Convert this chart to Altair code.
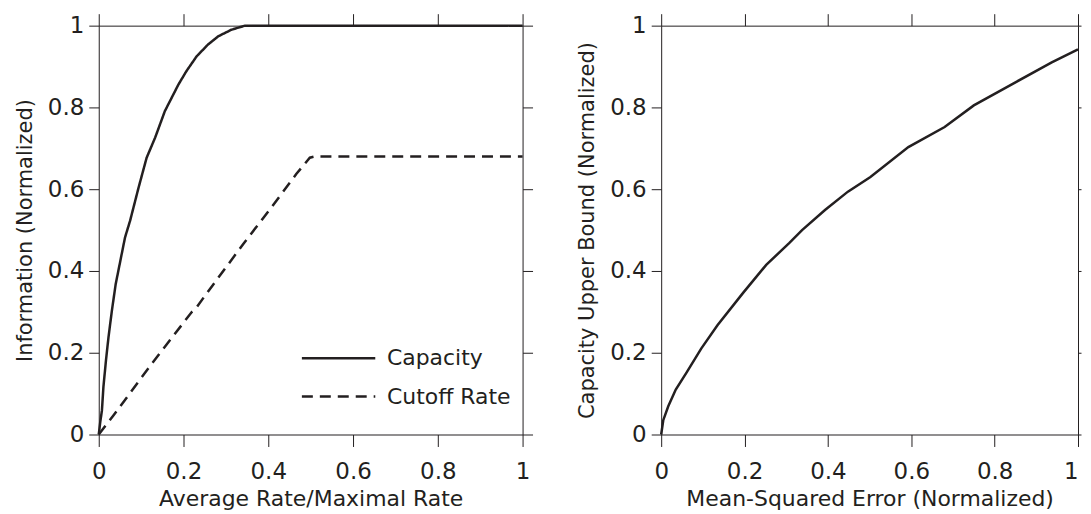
import altair as alt
import pandas as pd

INK = "#231f20"
FONT = "DejaVu Sans"

# ---- Left panel data ----
cap_x = [0, 0.0035, 0.0075, 0.011, 0.017, 0.023, 0.031, 0.040, 0.051, 0.062, 0.074,
         0.094, 0.113, 0.133, 0.156, 0.188, 0.207, 0.231, 0.258, 0.282, 0.313, 0.345,
         0.4, 0.6, 0.8, 1.0]
cap_y = [0, 0.03, 0.059, 0.116, 0.181, 0.238, 0.303, 0.368, 0.425, 0.482, 0.523,
         0.604, 0.677, 0.726, 0.791, 0.856, 0.889, 0.925, 0.954, 0.974, 0.99, 1.0,
         1.0, 1.0, 1.0, 1.0]

cut_x = [0, 0.035, 0.125, 0.219, 0.231, 0.251, 0.341, 0.407, 0.466, 0.498, 0.51, 1.0]
cut_y = [0, 0.047, 0.173, 0.299, 0.311, 0.34, 0.466, 0.555, 0.637, 0.677, 0.68, 0.68]

series_names = ["Capacity", "Cutoff Rate"]

# ---- Right panel data ----
mse_x = [0, 0.005, 0.017, 0.035, 0.06, 0.096, 0.135, 0.197, 0.252, 0.307, 0.338,
         0.393, 0.448, 0.502, 0.593, 0.68, 0.75, 0.851, 0.937, 1.0]
mse_y = [0, 0.035, 0.069, 0.11, 0.15, 0.21, 0.267, 0.347, 0.415, 0.468, 0.5,
         0.549, 0.594, 0.63, 0.703, 0.752, 0.805, 0.862, 0.91, 0.942]

tick_vals = [0, 0.2, 0.4, 0.6, 0.8, 1]

left_df = pd.concat([
    pd.DataFrame({"x": cap_x, "y": cap_y, "series": series_names[0], "order": range(len(cap_x))}),
    pd.DataFrame({"x": cut_x, "y": cut_y, "series": series_names[1], "order": range(len(cut_x))}),
])
right_df = pd.DataFrame({"x": mse_x, "y": mse_y, "order": range(len(mse_x))})

xs = alt.Scale(domain=[0, 1], nice=False, zero=False)
ys = alt.Scale(domain=[0, 1], nice=False, zero=False)


def x_axis(title, last_right=False):
    kw = {}
    if last_right:
        kw["labelAlign"] = {"condition": {"test": "datum.value == 1", "value": "right"},
                            "value": "center"}
    return alt.Axis(orient="bottom", title=title, values=tick_vals, format="~g",
                    labelFlush=False, labelOverlap=False, tickSize=12,
                    labelPadding=14, titlePadding=5, titleFontSize=22, **kw)


def y_axis(title):
    return alt.Axis(orient="left", title=title, values=tick_vals, format="~g",
                    labelFlush=False, labelOverlap=False, tickSize=10,
                    labelPadding=5, titlePadding=12, titleFontSize=21)


def mirror_layer(df, right_tick):
    return alt.Chart(df).mark_line(opacity=0).encode(
        x=alt.X("x:Q", scale=xs, axis=alt.Axis(orient="top", title=None, labels=False,
                                               values=tick_vals, tickSize=12)),
        y=alt.Y("y:Q", scale=ys, axis=alt.Axis(orient="right", title=None, labels=False,
                                               values=tick_vals, tickSize=right_tick)),
        order="order:Q",
    )


left_lines = alt.Chart(left_df).mark_line(strokeWidth=2.5, color=INK).encode(
    x=alt.X("x:Q", scale=xs, axis=x_axis("Average Rate/Maximal Rate")),
    y=alt.Y("y:Q", scale=ys, axis=y_axis("Information (Normalized)")),
    strokeDash=alt.StrokeDash(
        "series:N",
        scale=alt.Scale(domain=series_names, range=[[1, 0], [11, 7]]),
        legend=alt.Legend(
            title=None, orient="none", legendX=216, legendY=309,
            symbolType="M-1.6,0H1.6", symbolSize=2116, symbolStrokeWidth=2.5,
            symbolStrokeColor=INK, labelFontSize=22, labelColor=INK, labelFont=FONT,
            labelOffset=24, rowPadding=2.5, padding=0,
        ),
    ),
    order="order:Q",
)

left = alt.layer(left_lines, mirror_layer(left_df, 10)).resolve_axis(
    x="independent", y="independent").properties(width=425, height=410)

right_line = alt.Chart(right_df).mark_line(strokeWidth=2.5, color=INK).encode(
    x=alt.X("x:Q", scale=xs, axis=x_axis("Mean-Squared Error (Normalized)", last_right=True)),
    y=alt.Y("y:Q", scale=ys, axis=y_axis("Capacity Upper Bound (Normalized)")),
    order="order:Q",
)

right = alt.layer(right_line, mirror_layer(right_df, 3)).resolve_axis(
    x="independent", y="independent").properties(width=418, height=410)

chart = alt.hconcat(left, right, spacing=43).properties(
    padding={"left": 6, "top": 4, "right": 0, "bottom": 0}
).configure_view(stroke=None).configure_axis(
    grid=False,
    labelFont=FONT, titleFont=FONT,
    labelFontSize=23, titleFontWeight="normal",
    labelColor=INK, titleColor=INK,
    tickColor=INK, domainColor=INK, tickWidth=1, domainWidth=1,
)

chart.save("out.html", embed_options={"renderer": "svg", "actions": False})
